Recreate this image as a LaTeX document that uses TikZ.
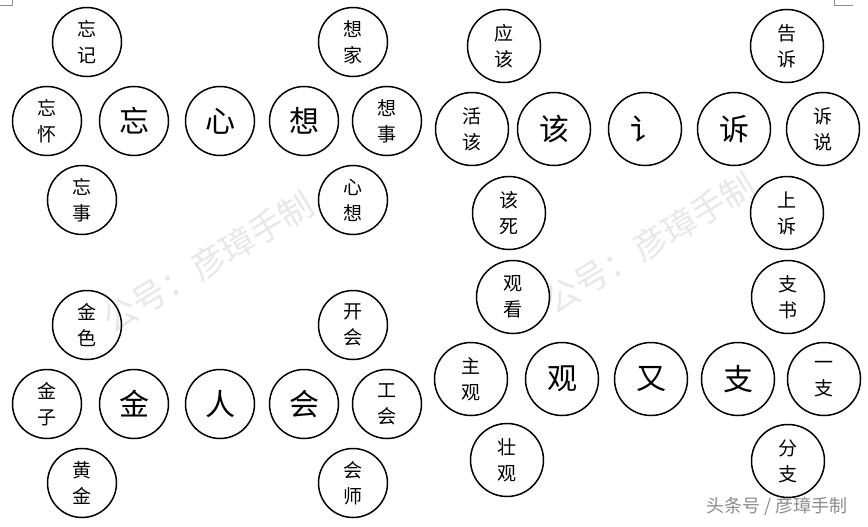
\documentclass[tikz,border=0pt]{standalone}
\usepackage{fontspec}
\newfontfamily\cjk{Noto Sans CJK SC}
\begin{document}
\begin{tikzpicture}[x=1pt,y=-1pt,
  ring/.style={circle,draw=black,line width=1.5pt,inner sep=0pt,align=center},
  bigA/.style={ring,minimum size=69pt,font=\cjk\fontsize{30}{30}\selectfont},
  smlA/.style={ring,minimum size=69pt,font=\cjk\fontsize{19}{26}\selectfont},
  bigB/.style={ring,minimum size=73pt,font=\cjk\fontsize{30}{30}\selectfont},
  smlB/.style={ring,minimum size=73pt,font=\cjk\fontsize{19}{26}\selectfont},
  wmark/.style={text=black!9,font=\cjk\fontsize{34}{34}\selectfont,rotate=31,inner sep=0pt},
  cmark/.style={draw=black!45,line width=0.6pt}]
\useasboundingbox[fill=white] (0,0) rectangle (868,527);

% watermarks
\node[wmark] (wm1) at (208,262) {公号：彦璋手制};
\node[wmark] (wm2) at (650,243) {公号：彦璋手制};
\node[text=black!45,font=\cjk\fontsize{18}{18}\selectfont,inner sep=0pt] (credit) at (777,506) {头条号 / 彦璋手制};

% corner marks
\coordinate (c1) at (0,5); \coordinate (c2) at (12,5); \coordinate (c3) at (12,0);
\draw[cmark] (c1) -- (c2) -- (c3);
\coordinate (d1) at (853,5); \coordinate (d2) at (834,5); \coordinate (d3) at (834,0);
\draw[cmark] (d1) -- (d2) -- (d3);

% top-left group
\node[smlA] (wangji) at (87,42) {忘\\记};
\node[smlA] (wanghuai) at (47,121) {忘\\怀};
\node[bigA] (wang) at (134,121) {忘};
\node[bigA] (xin) at (220,121) {心};
\node[bigA] (xiang) at (304,121) {想};
\node[smlA] (xiangshi) at (387,121) {想\\事};
\node[smlA] (xiangjia) at (353,42) {想\\家};
\node[smlA] (xinxiang) at (353,200) {心\\想};
\node[smlA] (wangshi) at (82,200) {忘\\事};

% top-right group
\node[smlB] (yinggai) at (504,46) {应\\该};
\node[smlB] (huogai) at (472,129) {活\\该};
\node[bigB] (gai) at (554,129) {该};
\node[bigB] (yan) at (645,129) {讠};
\node[bigB] (su) at (734,129) {诉};
\node[smlB] (sushuo) at (823,129) {诉\\说};
\node[smlB] (gaosu) at (787,46) {告\\诉};
\node[smlB] (shangsu) at (787,213) {上\\诉};
\node[smlB] (gaisi) at (509,213) {该\\死};

% bottom-left group
\node[smlA] (jinse) at (87,325) {金\\色};
\node[smlA] (jinzi) at (47,404) {金\\子};
\node[bigA] (jin) at (134,404) {金};
\node[bigA] (ren) at (220,404) {人};
\node[bigA] (hui) at (304,404) {会};
\node[smlA] (gonghui) at (387,404) {工\\会};
\node[smlA] (kaihui) at (353,325) {开\\会};
\node[smlA] (huishi) at (353,483) {会\\师};
\node[smlA] (huangjin) at (82,483) {黄\\金};

% bottom-right group
\node[smlB] (guankan) at (513,297) {观\\看};
\node[smlB] (zhuguan) at (471,379) {主\\观};
\node[bigB] (guan) at (562,379) {观};
\node[bigB] (you) at (651,379) {又};
\node[bigB] (zhi) at (738,379) {支};
\node[smlB] (yizhi) at (824,379) {一\\支};
\node[smlB] (zhishu) at (788,297) {支\\书};
\node[smlB] (fenzhi) at (788,461) {分\\支};
\node[smlB] (zhuangguan) at (507,460) {壮\\观};
\end{tikzpicture}
\end{document}
